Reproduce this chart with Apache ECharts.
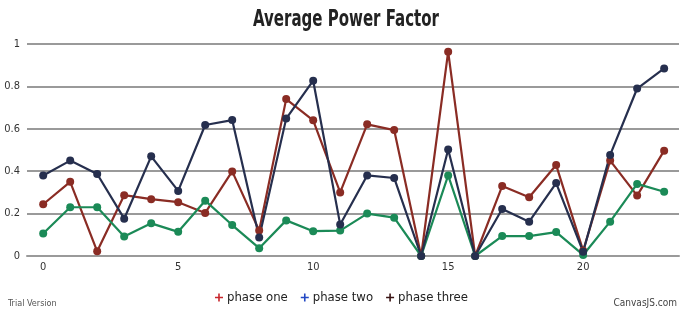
<!DOCTYPE html>
<html>
<head>
<meta charset="utf-8">
<script src="https://cdn.jsdelivr.net/npm/echarts@6/dist/echarts.min.js"></script>
<style>html,body{margin:0;padding:0;background:#fff}#c{width:683px;height:314px}</style>
</head>
<body>
<div id="c"></div>
<script>
var hours = [0,1,2,3,4,5,6,7,8,9,10,11,12,13,14,15,16,17,18,19,20,21,22,23];
var phaseOne = [0.244,0.35,0.022,0.287,0.268,0.254,0.203,0.399,0.12,0.74,0.64,0.30,0.621,0.594,0,0.964,0,0.33,0.277,0.429,0.025,0.45,0.285,0.497];
var phaseTwo = [0.106,0.23,0.23,0.092,0.154,0.114,0.261,0.146,0.037,0.168,0.117,0.12,0.2,0.181,0,0.38,0,0.094,0.094,0.113,0.005,0.162,0.34,0.303];
var phaseThree = [0.38,0.45,0.387,0.176,0.47,0.307,0.618,0.641,0.087,0.648,0.827,0.149,0.38,0.368,0,0.502,0,0.222,0.162,0.344,0.02,0.477,0.79,0.885];
var seriesNames = ['phase one','phase two','phase three'];
var lineColors = ['#8a2c24','#1b8a57','#262f4e'];
var legendColors = ['#c8262c','#2348c4','#3a1414'];
var yTicks = [0,0.2,0.4,0.6,0.8,1];
var titleText = 'Average Power Factor';

function pairs(arr){ return hours.map(function(h,i){ return [h, arr[i]]; }); }
var allData = [phaseOne, phaseTwo, phaseThree];

// pick a narrow font if one is installed
var cv = document.createElement('canvas').getContext('2d');
function w(font){ cv.font = font; return cv.measureText(titleText).width; }
var FAM = '"DejaVu Sans Condensed", sans-serif';
if (w('bold 23px "Liberation Sans Narrow", monospace') !== w('bold 23px monospace')) {
  FAM = '"Liberation Sans Narrow", "DejaVu Sans Condensed", sans-serif';
}
var titleFont = 'bold 23px ' + FAM;
var tw = w(titleFont);
var titleScale = Math.min(1, 186 / tw);

var chart = echarts.init(document.getElementById('c'), null, {renderer:'canvas'});
chart.setOption({
  animation:false,
  backgroundColor:'#ffffff',
  grid:{left:27, right:4, top:44, bottom:58},
  xAxis:{type:'value', min:-0.6, max:23.55,
    axisLine:{show:true, lineStyle:{color:'#9a9a9a', width:2}},
    axisTick:{show:false}, splitLine:{show:false},
    axisLabel:{fontFamily:FAM, fontSize:11, color:'#333', margin:6,
      showMinLabel:false, showMaxLabel:false,
      formatter:function(v){ return (Math.abs(v - Math.round(v))<1e-6 && Math.round(v)%5===0) ? String(Math.round(v)) : ''; }}
  },
  yAxis:{type:'value', min:yTicks[0], max:yTicks[yTicks.length-1], interval:0.2,
    axisLine:{show:false}, axisTick:{show:false},
    splitLine:{show:true, lineStyle:{color:'#9a9a9a', width:2}},
    axisLabel:{fontFamily:FAM, fontSize:11, color:'#333', margin:7,
      formatter:function(v){ return String(Math.round(v*10)/10); }}
  },
  legend:{bottom:5, left:'center', itemGap:13, itemWidth:10, itemHeight:8,
    textStyle:{fontFamily:FAM, fontSize:13, color:'#222', padding:[0,0,0,-2]},
    data: seriesNames.map(function(n,i){ return {name:n, icon:'path://M0,5 L4,5 L4,1 L6,1 L6,5 L10,5 L10,7 L6,7 L6,11 L4,11 L4,7 L0,7 Z',
      itemStyle:{color:legendColors[i]}, lineStyle:{color:legendColors[i]}}; })
  },
  graphic:[
    {type:'text', x:346, y:20, scaleX:titleScale, scaleY:1,
      style:{text:titleText, font:titleFont, fill:'#222', textAlign:'center', textVerticalAlign:'middle'}},
    {type:'text', left:8, top:299, style:{text:'Trial Version', font:'9px '+FAM, fill:'#555'}},
    {type:'text', right:6, top:298, style:{text:'CanvasJS.com', font:'10px '+FAM, fill:'#444'}}
  ],
  series: seriesNames.map(function(n,i){ return {
    name:n, type:'line', data:pairs(allData[i]),
    symbol:'circle', symbolSize:8, showAllSymbol:true,
    lineStyle:{color:lineColors[i], width:2.2},
    itemStyle:{color:lineColors[i]}
  }; })
});
</script>
</body>
</html>
